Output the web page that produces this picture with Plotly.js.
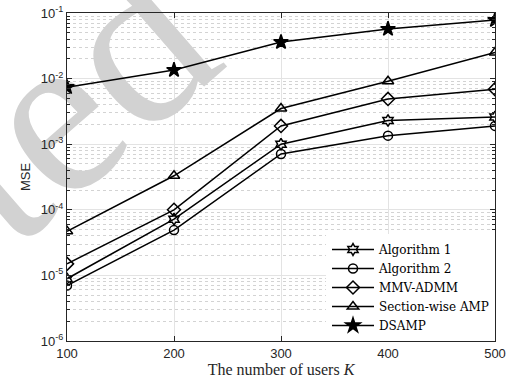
<!DOCTYPE html>
<html>
<head>
<meta charset="utf-8">
<script src="https://cdn.plot.ly/plotly-3.0.1.min.js"></script>
<style>html,body{margin:0;padding:0;background:#fff;}#chart{width:511px;height:380px;}</style>
</head>
<body>
<div id="chart"></div>
<script>
var users = [100, 200, 300, 400, 500];
var alg1 = [8.9e-6, 7.2e-5, 1.0e-3, 2.3e-3, 2.6e-3];
var alg2 = [7.0e-6, 4.9e-5, 7.1e-4, 1.35e-3, 1.9e-3];
var mmvAdmm = [1.5e-5, 1.0e-4, 1.9e-3, 4.9e-3, 6.9e-3];
var swAmp = [4.7e-5, 3.3e-4, 3.5e-3, 9.1e-3, 2.5e-2];
var dsamp = [7.4e-3, 1.35e-2, 3.6e-2, 5.7e-2, 7.8e-2];
var seriesNames = ['Algorithm 1', 'Algorithm 2', 'MMV-ADMM', 'Section-wise AMP', 'DSAMP'];
var yTickVals = [1e-6, 1e-5, 1e-4, 1e-3, 1e-2, 1e-1];
var yTickText = ['10<sup>-6</sup>', '10<sup>-5</sup>', '10<sup>-4</sup>', '10<sup>-3</sup>', '10<sup>-2</sup>', '10<sup>-1</sup>'];
var xTickVals = [100, 200, 300, 400, 500];

var symbols = ['hexagram-open', 'circle-open', 'diamond-open', 'triangle-up-open', 'star'];
var sizes = [9, 9, 10, 10, 11];
var allY = [alg1, alg2, mmvAdmm, swAmp, dsamp];

var traces = allY.map(function (ys, i) {
  return {
    x: users, y: ys, name: seriesNames[i], type: 'scatter', mode: 'lines+markers',
    line: {color: '#000000', width: 1.5},
    marker: {symbol: symbols[i], size: sizes[i], color: '#000000', line: {color: '#000000', width: 1.5}}
  };
});

var axisCommon = {
  showline: true, linecolor: '#262626', linewidth: 1, mirror: 'allticks',
  ticks: 'inside', ticklen: 5, tickcolor: '#262626', tickwidth: 1,
  zeroline: false,
  tickfont: {family: 'Liberation Sans, Arial, sans-serif', size: 13, color: '#262626'}
};

var layout = {
  width: 511, height: 380,
  margin: {l: 67, r: 16, t: 13, b: 39},
  paper_bgcolor: '#ffffff', plot_bgcolor: '#ffffff',
  showlegend: true,
  xaxis: Object.assign({}, axisCommon, {
    range: [100, 500], tickmode: 'array', tickvals: xTickVals,
    showgrid: true, gridcolor: '#e3e3e3', gridwidth: 1,
    title: {text: 'The number of users <i>K</i>', standoff: 3,
      font: {family: 'Liberation Serif, Times New Roman, serif', size: 16, color: '#262626'}}
  }),
  yaxis: Object.assign({}, axisCommon, {
    type: 'log', range: [-6, -1], tickmode: 'array', tickvals: yTickVals, ticktext: yTickText,
    showgrid: true, gridcolor: '#e3e3e3', gridwidth: 1,
    minor: {dtick: 'D1', ticks: 'inside', ticklen: 3, tickcolor: '#262626',
      showgrid: true, gridcolor: '#c8c8c8', griddash: 'dot', gridwidth: 0.8},
    title: {text: 'MSE', standoff: 7,
      font: {family: 'Liberation Sans, Arial, sans-serif', size: 13, color: '#262626'}}
  }),
  legend: {
    x: 1, xanchor: 'right', y: 0, yanchor: 'bottom',
    bgcolor: '#ffffff', bordercolor: '#ffffff', borderwidth: 1,
    itemwidth: 42,
    font: {family: 'DejaVu Serif, Liberation Serif, serif', size: 12, color: '#000000'},
    tracegroupgap: 0
  },
  annotations: [{
    text: 'Accepted', xref: 'paper', yref: 'paper', x: -0.524, y: 0.137,
    xanchor: 'center', yanchor: 'middle',
    showarrow: false, textangle: -41,
    font: {family: 'Liberation Serif, Times New Roman, serif', size: 235, color: '#d2d2d2'}
  }]
};

Plotly.newPlot('chart', traces, layout, {displayModeBar: false, staticPlot: true}).then(function (gd) {
  var ann = gd.querySelector('.annotation');
  var sub = gd.querySelector('.subplot.xy');
  var over = sub ? sub.querySelector('.overplot') : null;
  if (ann && sub && over) { sub.insertBefore(ann, over); }
});
</script>
</body>
</html>
